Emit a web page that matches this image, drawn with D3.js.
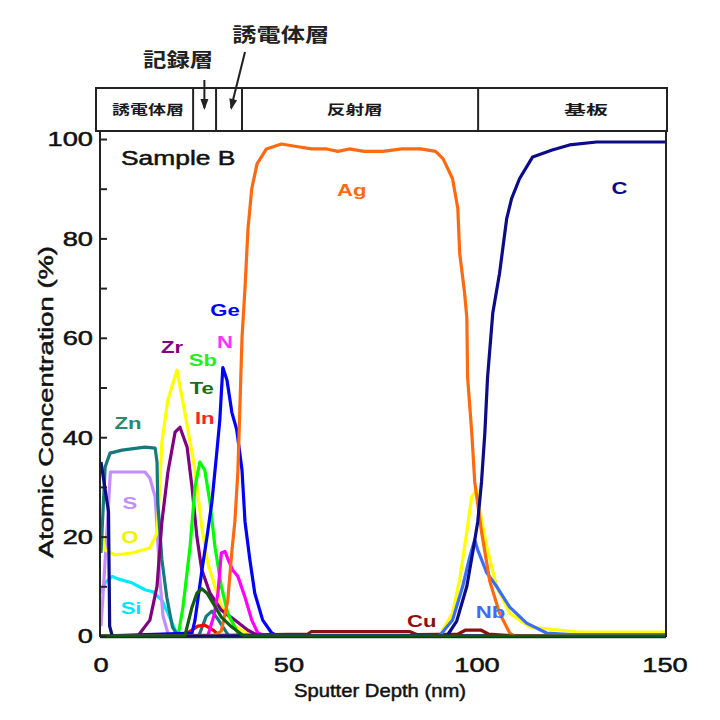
<!DOCTYPE html>
<html>
<head>
<meta charset="utf-8">
<script src="https://cdn.jsdelivr.net/npm/d3@7"></script>
<style>
  body { margin: 0; background: #fff; }
  text { font-family: "Liberation Sans", Arial, sans-serif; }
  .jp { font-family: "Noto Sans CJK JP", sans-serif; font-weight: bold; }
  .heavy { stroke: #111; stroke-width: 0.5; }
</style>
</head>
<body>
<div id="chart"></div>
<script>
// depth profile, [sputter depth nm, atomic %]
var ag = [[0,0],[30,0],[32,1],[33.7,7],[34.8,17],[35.6,23],[36.4,33],[36.9,45],[37.5,60],[38.3,70],[39.1,82],[40.1,90],[41.5,95],[44,98],[48,99],[52,98.5],[56,98],[60,98],[63,97.5],[66,98],[70,97.5],[75,97.5],[80,98],[85,98],[89,97.5],[91,96],[93.5,92],[94.9,86],[95.4,77],[96.7,69],[97.3,64],[97.5,52],[98.6,41],[99.4,31],[101.2,21],[103.4,11],[106,4.6],[108.7,0.6],[110,0],[150,0]];
var c = [[0,35],[1,30],[2,25],[2.3,2],[3,0],[92,0],[94.6,3],[97.3,10],[98.9,17],[100.2,23],[101.2,31],[102.1,41],[102.8,52],[104.2,65],[106,73],[107.9,84],[109.2,88],[111.3,92],[114.8,96.4],[120,97.8],[124.6,98.8],[131.8,99.4],[150,99.4]];
var zn = [[0,16.7],[1.1,34],[2.4,36.8],[5.6,37.4],[11.7,38],[14.4,37.8],[14.9,35],[15.1,26.8],[16.2,15.3],[17.5,7.8],[19,1.8],[20.5,0],[26,0],[28,4],[29.5,5],[31,3.5],[34,0],[150,0]];
var s = [[0,2],[1.5,20],[2.5,33],[11.7,33],[13,31.8],[14.4,28],[14.9,22],[15.6,12],[16.5,4],[18,0],[150,0]];
var o = [[0,22],[1.1,17.3],[3.7,16.3],[8.2,16.7],[13,17.7],[14.9,20.7],[15.6,30],[16.2,39],[17.8,47.5],[20.2,53.5],[22.3,45],[25,33.4],[26.8,22],[28.4,14.7],[30.3,10],[32,6],[35.6,2],[40,0],[90,0],[93.5,4.6],[95.4,11.3],[97.3,21],[98.6,28],[99.9,29.4],[101.2,23.3],[102.6,18],[105.2,10],[108.7,4.6],[114,1.8],[127,0.8],[150,0.8]];
var si = [[0,8.6],[1.1,10.7],[3,12],[4.5,11.5],[8.2,10.7],[11.7,9.3],[13.8,8.9],[16.2,7.2],[17.8,4.6],[19.7,1.2],[21,0],[150,0]];
var zr = [[0,0],[9.8,0],[13,3.2],[14.9,10],[16.2,23],[17.8,33],[19.7,41],[21,42],[22.9,38],[24.2,30],[25.5,20],[26.8,13.3],[29,8.6],[32,5.2],[35.6,3.2],[39,1.2],[42,0],[150,0]];
var sb = [[0,0],[20.5,0],[21.8,5.8],[23.7,18],[25,30],[26.3,35],[27.6,33.4],[29,26.8],[30.3,18],[32,10],[33.7,4.6],[36.4,0.6],[38,0],[150,0]];
var te = [[0,0],[22.3,0],[24.2,5.8],[25.5,8.6],[26.8,9.5],[28.2,8.6],[29.8,6.6],[32,3.8],[34.8,1.8],[38,0],[150,0]];
var inn = [[0,0],[21.5,0],[24.2,1.2],[25.8,2],[27.6,2.2],[29.8,1.2],[31.6,0],[150,0]];
var ge = [[0,0],[24.2,0.6],[25,3.2],[26.8,13],[28.2,20],[29.5,27],[30.8,37],[31.6,43.5],[32.4,54],[33.5,51.5],[34.8,45],[36.1,41.5],[37.5,33.4],[38.3,23],[39.6,15.3],[40.9,8.6],[43,3.2],[45.4,0.6],[47,0],[150,0]];
var n = [[0,0],[28.4,0],[30,4],[31.1,8.6],[32,16.7],[33,17],[34,15],[35,13.3],[36.4,12],[38.3,7.8],[40.1,3.2],[41.7,0.6],[44,0],[150,0]];
var cu = [[0,0],[40,0.2],[55,0.4],[56,0.9],[82,0.9],[84,0.3],[95,0.4],[97,1.2],[101,1.2],[103,0.4],[110,0],[150,0]];
var nb = [[0,0],[90,0],[93.5,3.2],[96.2,10],[98.1,16],[99.4,19.3],[100.2,17.3],[102.6,12.7],[105.2,10],[108.7,5.8],[113.2,2.6],[118.5,0.6],[125,0.3],[150,0.3]];

var xTicks = [0, 50, 100, 150];
var yTicks = [0, 20, 40, 60, 80, 100];

// layer stack, boundaries in nm
var layerEdges = [0, 24.5, 30.6, 37.5, 100.3, 150];
var layerNames = ["誘電体層", "", "", "反射層", "基板"];

var series = [
  {name: "Si", color: "#00eaff", data: si},
  {name: "S", color: "#c58cff", data: s},
  {name: "O", color: "#ffff00", data: o},
  {name: "Zn", color: "#16797a", data: zn},
  {name: "Zr", color: "#800080", data: zr},
  {name: "In", color: "#ff0000", data: inn},
  {name: "Sb", color: "#00ff00", data: sb},
  {name: "N", color: "#ff00ff", data: n},
  {name: "Ge", color: "#0000ff", data: ge},
  {name: "Cu", color: "#8b1010", data: cu},
  {name: "Nb", color: "#3a6cff", data: nb},
  {name: "Ag", color: "#ff6a10", data: ag},
  {name: "C", color: "#0c0c86", data: c},
  {name: "Te", color: "#0f5e12", data: te}
];

// where each element name sits (depth, %)
var tags = [
  {t: "Ag", d: 66.7, v: 89.7, color: "#ff6a10"},
  {t: "C", d: 137.9, v: 90.1, color: "#0c0c86"},
  {t: "Ge", d: 33, v: 65.6, color: "#0000ff"},
  {t: "N", d: 33, v: 59.2, color: "#ff33ff"},
  {t: "Zr", d: 18.9, v: 58.1, color: "#800080"},
  {t: "Sb", d: 27.1, v: 55.5, color: "#22ee22"},
  {t: "Te", d: 26.8, v: 49.9, color: "#1a6e1a"},
  {t: "In", d: 27.6, v: 43.9, color: "#ff2222"},
  {t: "Zn", d: 7.2, v: 42.9, color: "#2a8a70"},
  {t: "S", d: 7.7, v: 26.8, color: "#c58cff"},
  {t: "O", d: 7.7, v: 19.9, color: "#f2f200"},
  {t: "Si", d: 8, v: 5.6, color: "#00e5ff"},
  {t: "Cu", d: 85.3, v: 3, color: "#8b1010"},
  {t: "Nb", d: 103.6, v: 4.8, color: "#3a6cff"}
];

var w = 720, h = 720;
var svg = d3.select("#chart").append("svg").attr("width", w).attr("height", h);

var x = d3.scaleLinear().domain([0, 150]).range([101, 665]);
var y = d3.scaleLinear().domain([0, 100]).range([636, 139]);
var bandTop = 88, bandBot = 131;

// text squeezed/stretched sideways like the scanned original
function label(px, py, str, o) {
  var g = svg.append("g").attr("transform", "translate(" + px + "," + py + ") scale(" + (o.sx || 1) + ",1)");
  return g.append("text")
    .attr("text-anchor", o.anchor || "middle")
    .attr("dy", "0.35em")
    .attr("font-size", o.size)
    .attr("font-weight", o.weight || "normal")
    .attr("fill", o.fill || "#111")
    .attr("class", o.cls || null)
    .text(str);
}

// curves
var line = d3.line().x(function(d) { return x(d[0]); }).y(function(d) { return y(d[1]); });
svg.append("g").selectAll("path").data(series).enter().append("path")
  .attr("d", function(d) { return line(d.data); })
  .attr("fill", "none")
  .attr("stroke", function(d) { return d.color; })
  .attr("stroke-width", 3.2)
  .attr("stroke-linejoin", "round");

// frame
svg.append("line").attr("x1", x(0) - 1).attr("x2", x(0) - 1).attr("y1", bandBot).attr("y2", y(0) + 1)
  .attr("stroke", "#222").attr("stroke-width", 2);
svg.append("line").attr("x1", x(150) + 1).attr("x2", x(150) + 1).attr("y1", bandBot).attr("y2", y(0) + 1)
  .attr("stroke", "#222").attr("stroke-width", 2);
svg.append("line").attr("x1", x(0) - 1).attr("x2", x(150) + 1).attr("y1", y(0) + 1.5).attr("y2", y(0) + 1.5)
  .attr("stroke", "#0f3a12").attr("stroke-width", 1.5);

// y axis, inward ticks every 10
var yAxis = d3.axisLeft(y).tickValues(d3.range(0, 101, 10)).tickSizeInner(-7).tickSizeOuter(0)
  .tickFormat(function(d) { return d % 20 === 0 ? d : ""; });
var ya = svg.append("g").attr("transform", "translate(" + (x(0) - 1) + ",0)").call(yAxis);
ya.select(".domain").remove();
ya.selectAll("line").attr("stroke", "#222").attr("stroke-width", 2);
ya.selectAll("text").remove();
yTicks.forEach(function(t) {
  label(x(0) - 8, y(t), String(t), {size: 21, sx: 1.3, anchor: "end", cls: "heavy"});
});

// x axis labels
xTicks.forEach(function(t) {
  label(x(t), 665, String(t), {size: 21, sx: 1.3, cls: "heavy"});
});

// axis titles
svg.append("text").attr("class", "heavy").attr("x", 380).attr("y", 690).attr("dy", "0.35em")
  .attr("text-anchor", "middle").attr("font-size", 19).attr("fill", "#111")
  .attr("textLength", 172).attr("lengthAdjust", "spacingAndGlyphs")
  .text("Sputter Depth  (nm)");
svg.append("g").attr("transform", "translate(46,402) rotate(-90)")
  .append("text").attr("class", "heavy").attr("text-anchor", "middle").attr("dy", "0.35em")
  .attr("font-size", 21).attr("fill", "#111")
  .attr("textLength", 312).attr("lengthAdjust", "spacingAndGlyphs")
  .text("Atomic Concentration (%)");

label(121, 158, "Sample B", {size: 20, sx: 1.32, anchor: "start", cls: "heavy"});

// element names
tags.forEach(function(t) {
  label(x(t.d), y(t.v), t.t, {size: 17, sx: 1.3, weight: "bold", fill: t.color});
});

// layer band on top
svg.append("rect").attr("x", x(0) - 5).attr("y", bandTop)
  .attr("width", x(150) - x(0) + 7).attr("height", bandBot - bandTop)
  .attr("fill", "#fff").attr("stroke", "#222").attr("stroke-width", 2);
layerEdges.slice(1, -1).forEach(function(e) {
  svg.append("line").attr("x1", x(e)).attr("x2", x(e)).attr("y1", bandTop).attr("y2", bandBot)
    .attr("stroke", "#222").attr("stroke-width", 2);
});
var cellY = (bandTop + bandBot) / 2;
svg.append("text").attr("class", "jp").attr("x", x(12.5)).attr("y", cellY).attr("dy", "0.35em")
  .attr("text-anchor", "middle").attr("font-size", 13).attr("fill", "#1a1a1a")
  .attr("textLength", 72).attr("lengthAdjust", "spacingAndGlyphs").text(layerNames[0]);
svg.append("text").attr("class", "jp").attr("x", x(67.5)).attr("y", cellY).attr("dy", "0.35em")
  .attr("text-anchor", "middle").attr("font-size", 13).attr("fill", "#1a1a1a")
  .attr("textLength", 56).attr("lengthAdjust", "spacingAndGlyphs").text(layerNames[3]);
svg.append("text").attr("class", "jp").attr("x", x(129)).attr("y", cellY).attr("dy", "0.35em")
  .attr("text-anchor", "middle").attr("font-size", 13).attr("fill", "#1a1a1a")
  .attr("textLength", 44).attr("lengthAdjust", "spacingAndGlyphs").text(layerNames[4]);

// callouts above the band
svg.append("text").attr("class", "jp").attr("x", x(20.5)).attr("y", 60).attr("dy", "0.35em")
  .attr("text-anchor", "middle").attr("font-size", 19).attr("fill", "#222")
  .attr("textLength", 70).attr("lengthAdjust", "spacingAndGlyphs").text("記録層");
svg.append("text").attr("class", "jp").attr("x", x(47.8)).attr("y", 35).attr("dy", "0.35em")
  .attr("text-anchor", "middle").attr("font-size", 19).attr("fill", "#222")
  .attr("textLength", 97).attr("lengthAdjust", "spacingAndGlyphs").text("誘電体層");

function arrow(x1, y1, x2, y2) {
  svg.append("line").attr("x1", x1).attr("y1", y1).attr("x2", x2).attr("y2", y2)
    .attr("stroke", "#222").attr("stroke-width", 2);
  var a = Math.atan2(y2 - y1, x2 - x1), L = 9, W = 4;
  var bx = x2 - L * Math.cos(a), by = y2 - L * Math.sin(a);
  var px = -Math.sin(a) * W, py = Math.cos(a) * W;
  svg.append("path")
    .attr("d", "M" + x2 + "," + (y2 + 2) + "L" + (bx + px) + "," + (by + py) + "L" + (bx - px) + "," + (by - py) + "Z")
    .attr("fill", "#222");
}
arrow(x(27.5), 80, x(27.5), 108);
arrow(245, 52, 231, 108);
</script>
</body>
</html>
